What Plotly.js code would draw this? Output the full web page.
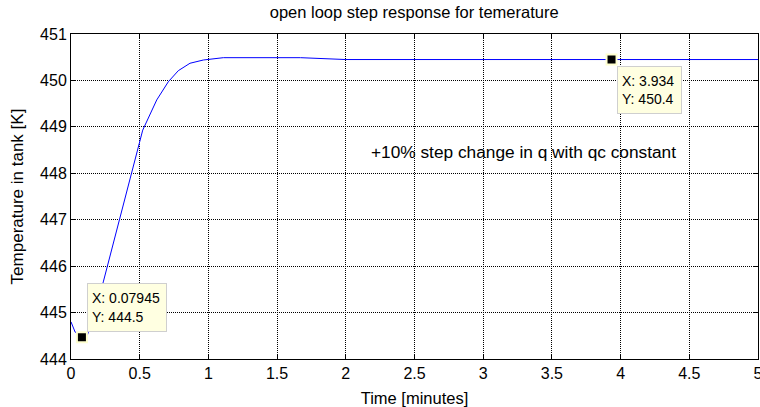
<!DOCTYPE html>
<html>
<head>
<meta charset="utf-8">
<script src="https://cdn.plot.ly/plotly-3.0.1.min.js"></script>
<style>html,body{margin:0;padding:0;background:#fff;}#chart{width:760px;height:407px;}</style>
</head>
<body>
<div id="chart"></div>
<script>
// Time [minutes]
var timeMin = [0, 0.03, 0.07945, 0.12, 0.235, 0.352, 0.437, 0.522, 0.624, 0.708, 0.781, 0.866, 0.963, 1.109, 1.67, 2.0, 5.0];
// Temperature in tank [K]
var tempK = [444.80, 444.58, 444.50, 444.52, 445.66, 446.99, 448.00, 448.93, 449.58, 449.97, 450.21, 450.37, 450.44, 450.49, 450.49, 450.45, 450.45];

// data tips
var tipX = [0.07945, 3.934];
var tipY = [444.47, 450.45];
var tipText = ["X: 0.07945<br>Y: 444.5", "X: 3.934<br>Y: 450.4"];

var xTicks = [0, 0.5, 1, 1.5, 2, 2.5, 3, 3.5, 4, 4.5, 5];
var xTickText = ["0", "0.5", "1", "1.5", "2", "2.5", "3", "3.5", "4", "4.5", "5"];
var yTicks = [444, 445, 446, 447, 448, 449, 450, 451];
var yTickText = ["444", "445", "446", "447", "448", "449", "450", "451"];

var noteText = "+10% step change in q with qc constant";
var noteX = 3.29, noteY = 448.46;

var FONT = "Liberation Sans, Arial, sans-serif";

var traces = [
  {x: timeMin, y: tempK, type: "scatter", mode: "lines",
   line: {color: "#0000ff", width: 1}, hoverinfo: "skip"},
  {x: tipX, y: tipY, type: "scatter", mode: "markers",
   marker: {symbol: "square", color: "#000000", size: 10, line: {color: "#ffffd0", width: 2}},
   hoverinfo: "skip"}
];

var axisCommon = {
  showline: true, linecolor: "#000", linewidth: 1, mirror: "ticks",
  ticks: "inside", ticklen: 5, tickcolor: "#000",
  showgrid: true, gridcolor: "#000", griddash: "1px,1px", gridwidth: 1,
  zeroline: false, automargin: false, ticklabeloverflow: "allow",
  tickfont: {family: FONT, size: 16, color: "#000"}
};

var layout = {
  width: 760, height: 407,
  margin: {l: 71, r: 2, t: 34, b: 48},
  paper_bgcolor: "#fff", plot_bgcolor: "#fff",
  showlegend: false,
  title: {text: "open loop step response for temerature", font: {family: FONT, size: 16.5, color: "#000"},
          x: 0.545, xanchor: "center", y: 0.97, yanchor: "middle"},
  xaxis: Object.assign({}, axisCommon, {
    range: [0, 5], tickvals: xTicks, ticktext: xTickText,
    title: {text: "Time [minutes]", font: {family: FONT, size: 16.5, color: "#000"}, standoff: 11}
  }),
  yaxis: Object.assign({}, axisCommon, {
    range: [444, 451], tickvals: yTicks, ticktext: yTickText,
    title: {text: "Temperature in tank [K]", font: {family: FONT, size: 17, color: "#000"}, standoff: 12}
  }),
  annotations: [
    {x: tipX[0], y: tipY[0], xref: "x", yref: "y", text: tipText[0], showarrow: false,
     xanchor: "left", yanchor: "bottom", xshift: 5, yshift: 5, align: "left",
     width: 70, height: 39, valign: "middle",
     bgcolor: "#ffffe1", bordercolor: "#cfcfcf", borderwidth: 1, borderpad: 4,
     font: {family: FONT, size: 14, color: "#000"}},
    {x: tipX[1], y: tipY[1], xref: "x", yref: "y", text: tipText[1], showarrow: false,
     xanchor: "left", yanchor: "top", xshift: 5, yshift: -6, align: "left",
     width: 55, height: 38, valign: "middle",
     bgcolor: "#ffffe1", bordercolor: "#cfcfcf", borderwidth: 1, borderpad: 4,
     font: {family: FONT, size: 14, color: "#000"}},
    {x: noteX, y: noteY, xref: "x", yref: "y", text: noteText, showarrow: false,
     xanchor: "center", yanchor: "middle",
     font: {family: FONT, size: 17.3, color: "#000"}}
  ]
};

Plotly.newPlot("chart", traces, layout, {staticPlot: true, displayModeBar: false});
</script>
</body>
</html>
